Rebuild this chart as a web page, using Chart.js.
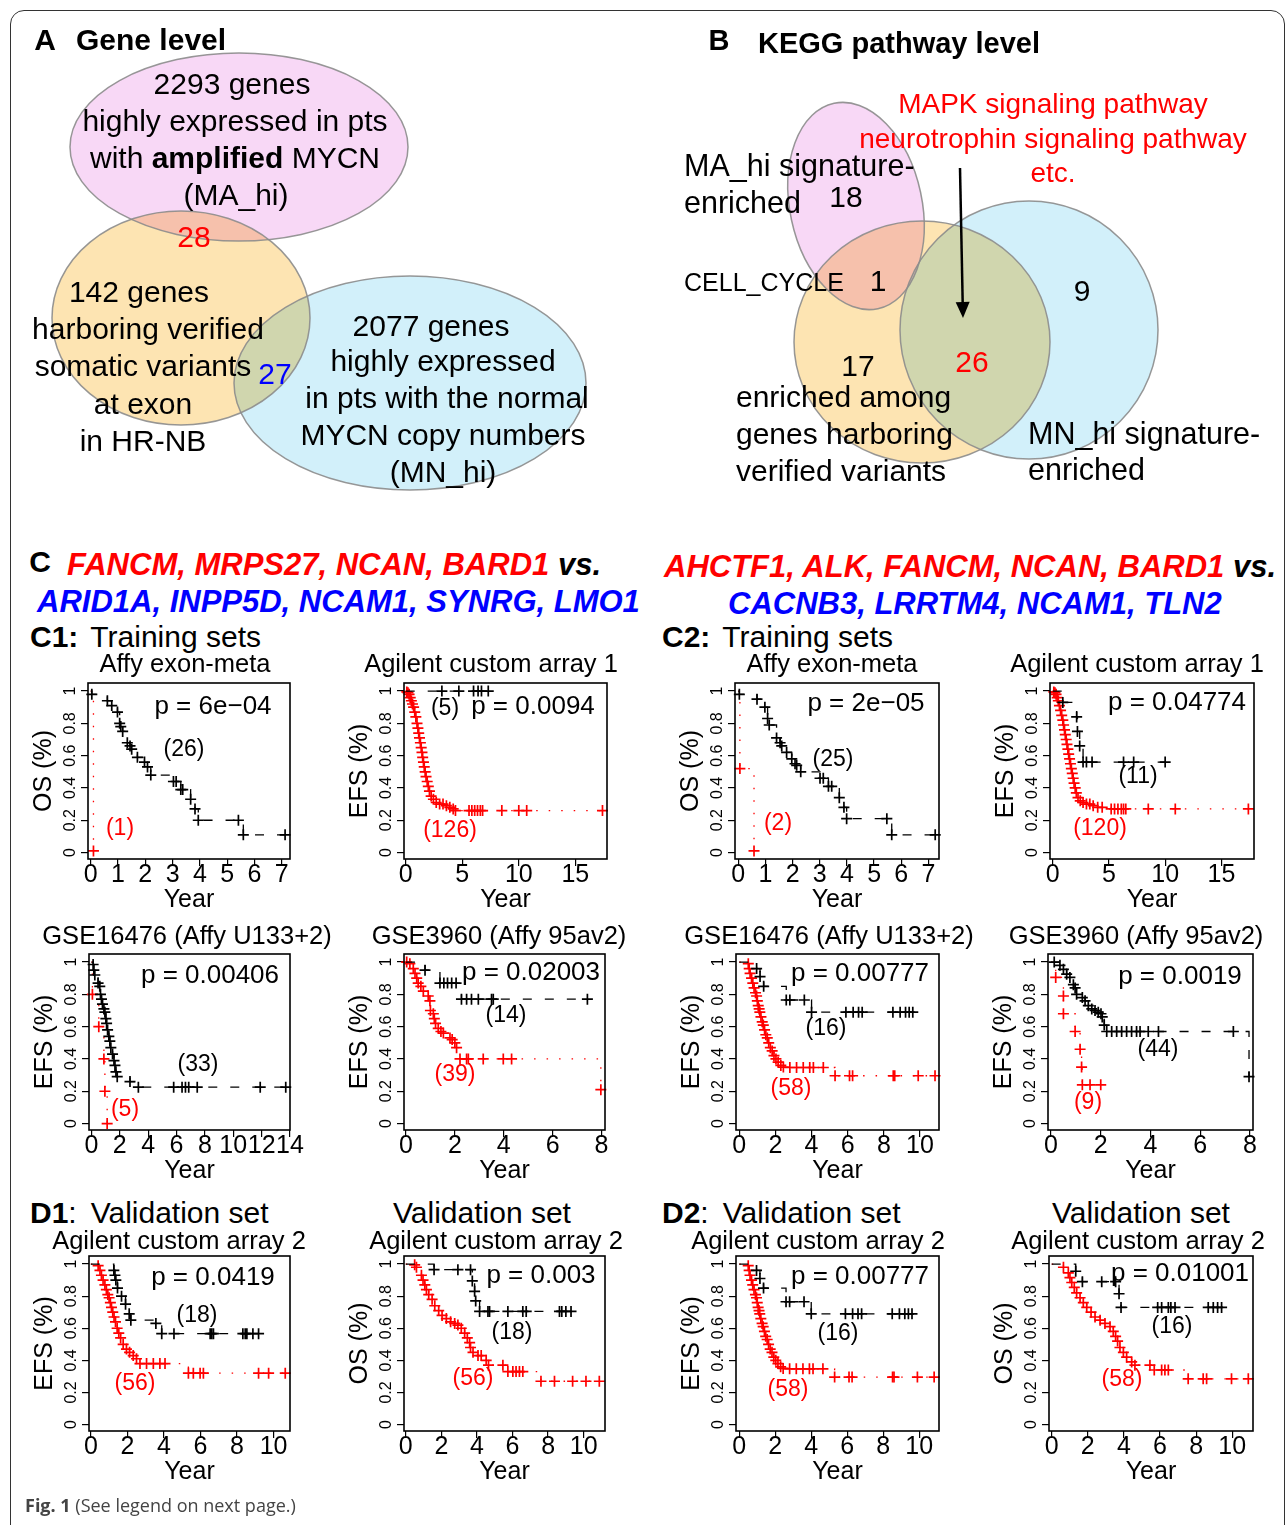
<!DOCTYPE html>
<html>
<head>
<meta charset="utf-8">
<script src="https://cdn.jsdelivr.net/npm/chart.js@4.4.1/dist/chart.umd.min.js"></script>
<style>
  html, body { margin: 0; padding: 0; background: #fff; }
  body { position: relative; width: 1287px; height: 1525px; overflow: hidden;
         font-family: "Liberation Sans", Arial, Helvetica, sans-serif; }
  .frame { position: absolute; left: 10px; top: 10px; width: 1275px; height: 1560px;
           border: 1.5px solid #333; border-radius: 14px; box-sizing: border-box; }
  .t { position: absolute; white-space: nowrap; line-height: 1; color: #000; }
  .c { transform: translate(-50%, -50%); }
  .l { transform: translateY(-50%); }
  .b { font-weight: bold; }
  .red { color: #ff0000; }
  .blue { color: #0000ff; }
  .hd { font-weight: bold; font-style: italic; }
  .cap { font-family: "Open Sans", "Noto Sans", sans-serif; color: #444; }
  canvas { position: absolute; }
</style>
</head>
<body>
<div class="frame"></div>
<canvas id="venn" width="1287" height="500" style="left:0;top:0"></canvas>
<script>
// ---- Venn counts ----
const geneSetSizes = [2293, 142, 2077];      // MA_hi, variants, MN_hi
const geneOverlaps = [28, 27];               // MA_hi & variants, variants & MN_hi
const keggCounts = [18, 1, 9, 26, 17];       // MA_hi, MA_hi&var, MN_hi, var&MN_hi, var

// ---- KM axis ticks ----
const yTicks = [0, 0.2, 0.4, 0.6, 0.8, 1];
const yTickLabels = ['0', '0.2', '0.4', '0.6', '0.8', '1'];
const xTicks7 = [0, 1, 2, 3, 4, 5, 6, 7];
const xTicks15 = [0, 5, 10, 15];
const xTicks14 = [0, 2, 4, 6, 8, 10, 12, 14];
const xTicks8 = [0, 2, 4, 6, 8];
const xTicks10 = [0, 2, 4, 6, 8, 10];

// ---- KM curves [year, survival]; hi = black group, lo = red group ----
const c1Affy_hi = [[0,1],[0.04,0.98],[0.61,0.94],[0.77,0.91],[0.98,0.87],[1.06,0.8],[1.1,0.78],[1.17,0.75],[1.34,0.68],[1.44,0.66],[1.5,0.64],[1.71,0.59],[1.97,0.56],[2.08,0.53],[2.2,0.48],[3.03,0.44],[3.13,0.44],[3.3,0.39],[3.37,0.39],[3.66,0.33],[3.82,0.27],[3.94,0.2],[5.41,0.2],[5.59,0.11],[7.12,0.11]];
const c1Affy_lo = [[0,1],[0.1,0.01]];

const c1Agil_hi = [[0,1],[3.2,1],[4.7,1],[6.0,1],[6.4,1],[6.7,1],[7.3,1]];
const c1Agil_lo = [[0,1],[0.1,0.995],[0.2,0.99],[0.3,0.98],[0.4,0.96],[0.5,0.94],[0.6,0.92],[0.7,0.9],[0.8,0.87],[0.9,0.84],[1.0,0.8],[1.08,0.77],[1.15,0.74],[1.22,0.71],[1.3,0.68],[1.37,0.65],[1.44,0.62],[1.5,0.59],[1.57,0.56],[1.64,0.53],[1.72,0.5],[1.8,0.47],[1.9,0.44],[2.0,0.41],[2.1,0.38],[2.25,0.35],[2.45,0.33],[2.7,0.31],[3.0,0.3],[3.3,0.3],[3.6,0.29],[3.9,0.28],[4.2,0.27],[4.4,0.26],[5.6,0.26],[5.85,0.26],[6.1,0.26],[6.35,0.26],[6.6,0.26],[6.8,0.26],[8.5,0.26],[10.0,0.26],[10.7,0.26],[17.4,0.26]];

const c1Gse16476_hi = [[0,1],[0.12,0.985],[0.17,0.95],[0.24,0.92],[0.47,0.87],[0.59,0.85],[0.64,0.8],[0.71,0.77],[0.78,0.74],[0.88,0.71],[0.95,0.69],[1.02,0.65],[1.07,0.62],[1.14,0.58],[1.23,0.54],[1.3,0.51],[1.37,0.47],[1.49,0.43],[1.59,0.39],[1.66,0.36],[1.73,0.32],[1.82,0.29],[2.72,0.26],[3.31,0.225],[5.8,0.225],[6.39,0.225],[6.63,0.225],[6.86,0.225],[7.46,0.225],[11.9,0.225],[13.7,0.225]];
const c1Gse16476_lo = [[0,1],[0.07,0.8],[0.52,0.6],[0.88,0.4],[0.95,0.2],[1.11,0]];

const c1Gse3960_hi = [[0,1],[0.78,0.95],[1.39,0.87],[1.55,0.87],[1.7,0.87],[1.87,0.87],[2.05,0.87],[2.27,0.77],[2.48,0.77],[2.68,0.77],[2.96,0.77],[3.5,0.77],[3.57,0.77],[7.42,0.77]];
const c1Gse3960_lo = [[0,1],[0.03,1.0],[0.16,0.99],[0.3,0.96],[0.37,0.93],[0.44,0.9],[0.5,0.87],[0.61,0.85],[0.71,0.82],[0.91,0.79],[0.98,0.76],[1.0,0.7],[1.12,0.68],[1.16,0.65],[1.21,0.62],[1.32,0.59],[1.43,0.57],[1.53,0.56],[1.8,0.53],[1.89,0.52],[2.0,0.5],[2.07,0.47],[2.21,0.4],[2.48,0.4],[2.55,0.4],[3.16,0.4],[3.98,0.4],[4.32,0.4],[7.97,0.21]];

const c2Affy_hi = [[0,1],[0.04,0.98],[0.69,0.95],[0.98,0.9],[1.08,0.83],[1.14,0.79],[1.41,0.71],[1.54,0.68],[1.6,0.66],[1.78,0.62],[1.97,0.58],[2.09,0.55],[2.15,0.54],[2.3,0.5],[3.01,0.46],[3.13,0.46],[3.32,0.41],[3.44,0.41],[3.72,0.34],[3.89,0.28],[3.99,0.21],[5.47,0.21],[5.65,0.11],[7.25,0.11]];
const c2Affy_lo = [[0,1],[0.06,0.52],[0.58,0.01]];

const c2Agil_hi = [[0,1],[0.9,0.93],[2.13,0.84],[2.2,0.75],[2.4,0.66],[2.7,0.56],[3.0,0.56],[3.5,0.56],[6.3,0.56],[7.2,0.56],[10.0,0.56]];
const c2Agil_lo = [[0,1],[0.1,0.995],[0.2,0.99],[0.3,0.98],[0.4,0.96],[0.5,0.94],[0.6,0.91],[0.7,0.88],[0.8,0.85],[0.9,0.82],[0.97,0.79],[1.05,0.76],[1.12,0.73],[1.2,0.7],[1.27,0.67],[1.35,0.64],[1.42,0.61],[1.5,0.58],[1.58,0.55],[1.66,0.52],[1.74,0.49],[1.82,0.46],[1.9,0.43],[2.0,0.4],[2.1,0.37],[2.25,0.34],[2.45,0.32],[2.7,0.31],[3.0,0.3],[3.3,0.3],[3.6,0.29],[4.0,0.28],[4.4,0.28],[5.2,0.27],[5.5,0.27],[5.8,0.27],[6.1,0.27],[6.3,0.27],[6.5,0.27],[8.5,0.27],[10.9,0.27],[17.4,0.27]];

const c2Gse16476_hi = [[0,1],[0.96,0.96],[1.15,0.91],[1.35,0.85],[2.6,0.765],[2.8,0.765],[3.6,0.765],[4.0,0.69],[5.9,0.69],[6.3,0.69],[6.6,0.69],[6.8,0.69],[8.5,0.69],[8.9,0.69],[9.2,0.69],[9.4,0.69],[9.6,0.69]];
const c2Gse16476_lo = [[0,1],[0.5,0.99],[0.55,0.96],[0.6,0.93],[0.68,0.9],[0.75,0.87],[0.82,0.84],[0.9,0.81],[0.96,0.79],[1.0,0.76],[1.05,0.73],[1.1,0.71],[1.14,0.69],[1.2,0.66],[1.27,0.63],[1.33,0.61],[1.4,0.58],[1.47,0.55],[1.55,0.53],[1.63,0.5],[1.72,0.47],[1.82,0.45],[1.92,0.42],[2.03,0.4],[2.15,0.38],[2.3,0.36],[2.44,0.35],[2.8,0.347],[3.17,0.347],[3.54,0.347],[3.9,0.347],[4.1,0.347],[4.65,0.347],[5.3,0.296],[6.1,0.296],[6.27,0.296],[8.52,0.296],[8.6,0.296],[9.9,0.296],[10.83,0.296]];

const c2Gse3960_hi = [[0,1],[0.13,1.0],[0.36,0.98],[0.5,0.955],[0.63,0.925],[0.76,0.905],[0.9,0.86],[0.97,0.84],[1.03,0.8],[1.26,0.78],[1.37,0.76],[1.5,0.73],[1.64,0.71],[1.77,0.7],[1.9,0.69],[2.01,0.68],[2.06,0.66],[2.14,0.61],[2.24,0.57],[2.44,0.57],[2.64,0.57],[2.84,0.57],[3.04,0.57],[3.24,0.57],[3.44,0.57],[3.58,0.57],[3.91,0.57],[4.32,0.57],[7.33,0.57],[7.96,0.29]];
const c2Gse3960_lo = [[0,1],[0.19,0.905],[0.5,0.79],[0.5,0.68],[0.97,0.57],[1.17,0.46],[1.23,0.35],[1.26,0.24],[1.57,0.24],[2.0,0.24]];

const d1Efs_hi = [[0,1],[1.26,0.96],[1.32,0.93],[1.37,0.9],[1.46,0.85],[1.68,0.8],[1.9,0.75],[2.1,0.69],[2.19,0.65],[3.56,0.63],[3.88,0.566],[4.55,0.566],[6.53,0.566],[6.62,0.566],[6.71,0.566],[8.32,0.566],[8.45,0.566],[8.54,0.566],[8.87,0.566],[9.18,0.566]];
const d1Efs_lo = [[0,1],[0.4,0.99],[0.5,0.96],[0.58,0.93],[0.67,0.9],[0.77,0.87],[0.85,0.84],[0.93,0.81],[1.0,0.79],[1.07,0.76],[1.13,0.73],[1.2,0.7],[1.27,0.67],[1.35,0.64],[1.44,0.6],[1.53,0.57],[1.63,0.54],[1.77,0.5],[1.95,0.47],[2.12,0.45],[2.32,0.43],[2.5,0.41],[2.69,0.38],[3.05,0.38],[3.42,0.38],[3.78,0.38],[4.06,0.38],[5.34,0.32],[5.61,0.32],[5.98,0.32],[6.16,0.32],[9.18,0.32],[9.73,0.32],[10.64,0.32]];

const d1Os_hi = [[0,1],[1.59,0.965],[2.93,0.965],[3.64,0.965],[3.74,0.895],[3.87,0.83],[3.93,0.77],[4.15,0.705],[4.62,0.705],[4.71,0.705],[5.74,0.705],[6.58,0.705],[6.77,0.705],[8.64,0.705],[8.77,0.705],[9.0,0.705],[9.29,0.705]];
const d1Os_lo = [[0,1],[0.5,0.995],[0.6,0.98],[0.88,0.93],[0.97,0.9],[1.07,0.87],[1.16,0.84],[1.29,0.81],[1.48,0.78],[1.63,0.74],[1.85,0.71],[2.04,0.68],[2.28,0.66],[2.52,0.64],[2.75,0.63],[2.93,0.62],[3.12,0.6],[3.31,0.57],[3.46,0.54],[3.59,0.51],[3.64,0.48],[3.78,0.45],[4.06,0.43],[4.24,0.43],[4.52,0.4],[4.65,0.37],[5.46,0.37],[5.74,0.33],[6.02,0.33],[6.2,0.33],[6.39,0.33],[6.58,0.33],[7.6,0.27],[8.36,0.27],[9.38,0.27],[10.13,0.27],[10.88,0.27]];

const d2Os_hi = [[0,1],[1.33,0.955],[1.7,0.89],[2.77,0.89],[3.54,0.89],[3.73,0.815],[3.84,0.73],[5.87,0.73],[6.09,0.73],[6.46,0.73],[6.6,0.73],[6.83,0.73],[8.67,0.73],[8.95,0.73],[9.19,0.73],[9.41,0.73]];
const d2Os_lo = [[0,1],[0.65,0.98],[0.92,0.945],[1.01,0.915],[1.11,0.885],[1.25,0.855],[1.38,0.82],[1.57,0.79],[1.75,0.76],[1.94,0.73],[2.18,0.7],[2.4,0.67],[2.68,0.65],[2.95,0.63],[3.23,0.61],[3.41,0.58],[3.54,0.55],[3.65,0.52],[3.78,0.48],[3.97,0.45],[4.15,0.42],[4.43,0.39],[4.61,0.37],[5.44,0.37],[5.68,0.34],[6.09,0.34],[6.27,0.34],[6.46,0.34],[7.56,0.285],[8.39,0.285],[8.58,0.285],[9.96,0.285],[10.89,0.285]];

// p values and group sizes per panel (C1 a-d, C2 a-d, D1 a-b, D2 a-b)
const pValues = ['6e\u221204', '0.0094', '0.00406', '0.02003', '2e\u221205', '0.04774', '0.00777', '0.0019', '0.0419', '0.003', '0.00777', '0.01001'];
const hiN = [26, 5, 33, 14, 25, 11, 16, 44, 18, 18, 16, 16];
const loN = [1, 126, 5, 39, 2, 120, 58, 9, 56, 56, 58, 58];

// ---- layout ----
const panels = [
  {box: [88, 683, 290, 859],   x: [-0.1, 7.3],   ticks: xTicks7,  yTitle: 'OS (%)',  hi: c1Affy_hi, lo: c1Affy_lo, pPos: [213, 705], hiPos: [184, 748], loPos: [120, 827]},
  {box: [404, 683, 607, 859],  x: [-0.15, 17.8], ticks: xTicks15, yTitle: 'EFS (%)', hi: c1Agil_hi, lo: c1Agil_lo, pPos: [533, 705], hiPos: [445, 707], loPos: [450, 829]},
  {box: [89, 954, 290, 1130],  x: [-0.17, 14.0], ticks: xTicks14, yTitle: 'EFS (%)', hi: c1Gse16476_hi, lo: c1Gse16476_lo, pPos: [210, 974], hiPos: [198, 1063], loPos: [125, 1108]},
  {box: [404, 954, 605, 1130], x: [-0.08, 8.14], ticks: xTicks8,  yTitle: 'EFS (%)', hi: c1Gse3960_hi, lo: c1Gse3960_lo, pPos: [531, 971], hiPos: [506, 1014], loPos: [455, 1073]},
  {box: [735, 683, 939, 859],  x: [-0.12, 7.39], ticks: xTicks7,  yTitle: 'OS (%)',  hi: c2Affy_hi, lo: c2Affy_lo, pPos: [866, 702], hiPos: [833, 758], loPos: [778, 822]},
  {box: [1050, 683, 1254, 859], x: [-0.24, 17.9], ticks: xTicks15, yTitle: 'EFS (%)', hi: c2Agil_hi, lo: c2Agil_lo, pPos: [1177, 701], hiPos: [1138, 775], loPos: [1100, 827]},
  {box: [736, 954, 939, 1130], x: [-0.18, 11.05], ticks: xTicks10, yTitle: 'EFS (%)', hi: c2Gse16476_hi, lo: c2Gse16476_lo, pPos: [860, 972], hiPos: [826, 1027], loPos: [791, 1087]},
  {box: [1048, 954, 1253, 1130], x: [-0.12, 8.12], ticks: xTicks8, yTitle: 'EFS (%)', hi: c2Gse3960_hi, lo: c2Gse3960_lo, pPos: [1180, 975], hiPos: [1158, 1048], loPos: [1088, 1101]},
  {box: [89, 1256, 290, 1431], x: [-0.1, 10.9], ticks: xTicks10, yTitle: 'EFS (%)', hi: d1Efs_hi, lo: d1Efs_lo, pPos: [213, 1276], hiPos: [197, 1314], loPos: [135, 1382]},
  {box: [404, 1256, 605, 1431], x: [-0.1, 11.2], ticks: xTicks10, yTitle: 'OS (%)',  hi: d1Os_hi, lo: d1Os_lo, pPos: [541, 1274], hiPos: [512, 1331], loPos: [473, 1377]},
  {box: [736, 1256, 939, 1431], x: [-0.18, 11.1], ticks: xTicks10, yTitle: 'EFS (%)', hi: c2Gse16476_hi, lo: c2Gse16476_lo, pPos: [860, 1275], hiPos: [838, 1332], loPos: [788, 1388]},
  {box: [1049, 1256, 1253, 1431], x: [-0.15, 11.15], ticks: xTicks10, yTitle: 'OS (%)', hi: d2Os_hi, lo: d2Os_lo, pPos: [1180, 1272], hiPos: [1172, 1325], loPos: [1122, 1378]}
];

const vennShapes = [
  {cx: 239, cy: 147, rx: 169, ry: 94, rot: 0, fill: '#f8d8f6'},
  {cx: 410, cy: 383, rx: 176, ry: 107, rot: 0, fill: '#d2f0fa'},
  {cx: 181, cy: 318, rx: 129, ry: 107, rot: 0, fill: '#fde4b2'},
  {cx: 856, cy: 206, rx: 66, ry: 105, rot: -0.21, fill: '#f8d8f6'},
  {cx: 1029, cy: 330, rx: 129, ry: 129, rot: 0, fill: '#d2f0fa'},
  {cx: 922, cy: 342, rx: 128, ry: 121, rot: 0, fill: '#fde4b2'}
];
const vennArrow = [960, 168, 963, 318];

function addText(html, x, y, align, size, cls) {
  const d = document.createElement('div');
  d.className = 't ' + align + (cls ? ' ' + cls : '');
  d.style.left = x + 'px';
  d.style.top = y + 'px';
  d.style.fontSize = size + 'px';
  d.innerHTML = html;
  document.body.appendChild(d);
}

// Venn diagrams drawn on a pixel-unit scatter chart
const vennPlugin = {
  id: 'venn',
  beforeDatasetsDraw(chart) {
    const {ctx, scales: {x, y}} = chart;
    const geo = s => {
      const px = x.getPixelForValue(s.cx), py = y.getPixelForValue(s.cy);
      return [px, py, Math.abs(x.getPixelForValue(s.cx + s.rx) - px), Math.abs(y.getPixelForValue(s.cy + s.ry) - py)];
    };
    ctx.save();
    ctx.globalCompositeOperation = 'multiply';
    vennShapes.forEach(s => {
      const [px, py, rx, ry] = geo(s);
      ctx.beginPath();
      ctx.ellipse(px, py, rx, ry, s.rot, 0, Math.PI * 2);
      ctx.fillStyle = s.fill;
      ctx.fill();
    });
    ctx.globalCompositeOperation = 'source-over';
    ctx.strokeStyle = 'rgba(140,140,140,0.9)';
    ctx.lineWidth = 1.5;
    vennShapes.forEach(s => {
      const [px, py, rx, ry] = geo(s);
      ctx.beginPath();
      ctx.ellipse(px, py, rx, ry, s.rot, 0, Math.PI * 2);
      ctx.stroke();
    });
    // arrow
    const x0 = x.getPixelForValue(vennArrow[0]), y0 = y.getPixelForValue(vennArrow[1]);
    const x1 = x.getPixelForValue(vennArrow[2]), y1 = y.getPixelForValue(vennArrow[3]);
    const ang = Math.atan2(y1 - y0, x1 - x0);
    ctx.strokeStyle = '#000';
    ctx.fillStyle = '#000';
    ctx.lineWidth = 2.5;
    ctx.beginPath();
    ctx.moveTo(x0, y0);
    ctx.lineTo(x1 - 12 * Math.cos(ang), y1 - 12 * Math.sin(ang));
    ctx.stroke();
    ctx.beginPath();
    ctx.moveTo(x1, y1);
    ctx.lineTo(x1 - 16 * Math.cos(ang) + 7 * Math.sin(ang), y1 - 16 * Math.sin(ang) - 7 * Math.cos(ang));
    ctx.lineTo(x1 - 16 * Math.cos(ang) - 7 * Math.sin(ang), y1 - 16 * Math.sin(ang) + 7 * Math.cos(ang));
    ctx.closePath();
    ctx.fill();
    ctx.restore();
  }
};

new Chart(document.getElementById('venn'), {
  type: 'scatter',
  data: {datasets: [{data: []}]},
  options: {
    responsive: false, animation: false, devicePixelRatio: 1,
    layout: {padding: 0},
    plugins: {legend: {display: false}, tooltip: {enabled: false}},
    scales: {
      x: {type: 'linear', min: 0, max: 1287, display: false},
      y: {type: 'linear', min: 0, max: 500, reverse: true, display: false}
    }
  },
  plugins: [vennPlugin]
});

// box, rotated y tick labels and y title in R style
const kmFrame = {
  id: 'kmFrame',
  afterDraw(chart, args, opts) {
    const {ctx, chartArea: a, scales: {y}} = chart;
    ctx.save();
    ctx.strokeStyle = '#000';
    ctx.lineWidth = 1.6;
    ctx.strokeRect(a.left, a.top, a.right - a.left, a.bottom - a.top);
    ctx.fillStyle = '#000';
    ctx.textAlign = 'center';
    ctx.textBaseline = 'middle';
    ctx.font = '16px "Liberation Sans", Arial, sans-serif';
    yTicks.forEach((v, i) => {
      ctx.save();
      ctx.translate(a.left - 17, y.getPixelForValue(v));
      ctx.rotate(-Math.PI / 2);
      ctx.fillText(yTickLabels[i], 0, 0);
      ctx.restore();
    });
    ctx.font = '25px "Liberation Sans", Arial, sans-serif';
    ctx.translate(a.left - 44, (a.top + a.bottom) / 2);
    ctx.rotate(-Math.PI / 2);
    ctx.fillText(opts.title, 0, 0);
    ctx.restore();
  }
};

const pad = {l: 72, t: 8, r: 22, b: 64};

function kmChart(p) {
  const cv = document.createElement('canvas');
  const w = p.box[2] - p.box[0] + pad.l + pad.r;
  const h = p.box[3] - p.box[1] + pad.t + pad.b;
  cv.width = w;
  cv.height = h;
  cv.style.left = (p.box[0] - pad.l) + 'px';
  cv.style.top = (p.box[1] - pad.t) + 'px';
  document.body.appendChild(cv);

  const curve = (pts, color, dash) => ({
    data: pts.map(([x, y]) => ({x, y})),
    stepped: true,
    borderColor: color,
    borderWidth: 1.3,
    borderDash: dash,
    pointStyle: 'cross',
    pointRadius: ctx => ctx.dataIndex === 0 ? 0 : 5.5,
    pointBorderColor: color,
    pointBorderWidth: 1.7,
    fill: false,
    clip: 10
  });

  new Chart(cv, {
    type: 'line',
    data: {datasets: [curve(p.hi, '#000', [9, 13]), curve(p.lo, '#ff0000', [1.5, 11])]},
    options: {
      responsive: false, animation: false, devicePixelRatio: 1,
      layout: {padding: {left: 0, top: pad.t, right: pad.r, bottom: 0}},
      plugins: {legend: {display: false}, tooltip: {enabled: false}, kmFrame: {title: p.yTitle}},
      scales: {
        x: {
          type: 'linear', min: p.x[0], max: p.x[1],
          afterFit: s => { s.height = pad.b; },
          afterBuildTicks: s => { s.ticks = p.ticks.map(v => ({value: v})); },
          ticks: {autoSkip: false, maxRotation: 0, minRotation: 0, padding: -6, color: '#000',
                  font: {size: 25, family: '"Liberation Sans", Arial, sans-serif'}},
          grid: {drawOnChartArea: false, tickLength: 7, color: '#000', lineWidth: 1.2},
          border: {display: false},
          title: {display: true, text: 'Year', color: '#000', padding: {top: 0, bottom: 8},
                  font: {size: 25, family: '"Liberation Sans", Arial, sans-serif'}}
        },
        y: {
          type: 'linear', min: -0.04, max: 1.05,
          afterFit: s => { s.width = pad.l; },
          afterBuildTicks: s => { s.ticks = yTicks.map(v => ({value: v})); },
          ticks: {display: false},
          grid: {drawOnChartArea: false, tickLength: 7, color: '#000', lineWidth: 1.2},
          border: {display: false}
        }
      }
    },
    plugins: [kmFrame]
  });
}

panels.forEach(kmChart);

// ---- texts ----
// panel A
addText('A', 45, 40, 'c', 30, 'b');
addText('Gene level', 76, 40, 'l', 30, 'b');
addText(`${geneSetSizes[0]} genes`, 232, 84, 'c', 30);
addText('highly expressed in pts', 235, 121, 'c', 30);
addText('with <b>amplified</b> MYCN', 235, 158, 'c', 30);
addText('(MA_hi)', 236, 195, 'c', 30);
addText(geneOverlaps[0], 194, 237, 'c', 30, 'red');
addText(`${geneSetSizes[1]} genes`, 139, 292, 'c', 30);
addText('harboring verified', 148, 329, 'c', 30);
addText('somatic variants', 143, 366, 'c', 30);
addText(geneOverlaps[1], 275, 374, 'c', 30, 'blue');
addText('at exon', 143, 404, 'c', 30);
addText('in HR-NB', 143, 441, 'c', 30);
addText(`${geneSetSizes[2]} genes`, 431, 326, 'c', 30);
addText('highly expressed', 443, 361, 'c', 30);
addText('in pts with the normal', 447, 398, 'c', 30);
addText('MYCN copy numbers', 443, 435, 'c', 30);
addText('(MN_hi)', 443, 472, 'c', 30);

// panel B
addText('B', 719, 40, 'c', 29, 'b');
addText('KEGG pathway level', 758, 43, 'l', 29, 'b');
addText('MAPK signaling pathway', 1053, 104, 'c', 28, 'red');
addText('neurotrophin signaling pathway', 1053, 139, 'c', 28, 'red');
addText('etc.', 1053, 173, 'c', 28, 'red');
addText('MA_hi signature-', 684, 165, 'l', 30.5);
addText('enriched', 684, 202, 'l', 30.5);
addText(keggCounts[0], 846, 197, 'c', 30);
addText('CELL_CYCLE', 684, 282, 'l', 25);
addText(keggCounts[1], 878, 281, 'c', 30);
addText(keggCounts[2], 1082, 291, 'c', 30);
addText(keggCounts[3], 972, 362, 'c', 30, 'red');
addText(keggCounts[4], 858, 366, 'c', 30);
addText('enriched among', 736, 397, 'l', 30);
addText('genes harboring', 736, 434, 'l', 30);
addText('verified variants', 736, 471, 'l', 30);
addText('MN_hi signature-', 1028, 433, 'l', 30.5);
addText('enriched', 1028, 469, 'l', 30.5);

// panel C / D headings
addText('C', 40, 562, 'c', 30, 'b');
addText('<span class="red">FANCM, MRPS27, NCAN, BARD1</span> vs.', 67, 564, 'l', 31, 'hd');
addText('ARID1A, INPP5D, NCAM1, SYNRG, LMO1', 37, 601, 'l', 31, 'hd blue');
addText('<span class="red">AHCTF1, ALK, FANCM, NCAN, BARD1</span> vs.', 664, 566, 'l', 31, 'hd');
addText('CACNB3, LRRTM4, NCAM1, TLN2', 728, 603, 'l', 31, 'hd blue');
addText('<b>C1:</b><span style="margin-left:12px">Training sets</span>', 30, 637, 'l', 30);
addText('<b>C2:</b><span style="margin-left:12px">Training sets</span>', 662, 637, 'l', 30);
addText('Affy exon-meta', 185, 664, 'c', 25.5);
addText('Agilent custom array 1', 491, 664, 'c', 25.5);
addText('Affy exon-meta', 832, 664, 'c', 25.5);
addText('Agilent custom array 1', 1137, 664, 'c', 25.5);
addText('GSE16476 (Affy U133+2)', 187, 936, 'c', 25.5);
addText('GSE3960 (Affy 95av2)', 499, 936, 'c', 25.5);
addText('GSE16476 (Affy U133+2)', 829, 936, 'c', 25.5);
addText('GSE3960 (Affy 95av2)', 1136, 936, 'c', 25.5);
addText('<b>D1</b>:<span style="margin-left:14px">Validation set</span>', 30, 1213, 'l', 30);
addText('Validation set', 482, 1213, 'c', 30);
addText('<b>D2</b>:<span style="margin-left:14px">Validation set</span>', 662, 1213, 'l', 30);
addText('Validation set', 1141, 1213, 'c', 30);
addText('Agilent custom array 2', 179, 1241, 'c', 25.5);
addText('Agilent custom array 2', 496, 1241, 'c', 25.5);
addText('Agilent custom array 2', 818, 1241, 'c', 25.5);
addText('Agilent custom array 2', 1138, 1241, 'c', 25.5);

// KM annotations
panels.forEach((p, i) => {
  addText('p = ' + pValues[i], p.pPos[0], p.pPos[1], 'c', 26);
  addText('(' + hiN[i] + ')', p.hiPos[0], p.hiPos[1], 'c', 23);
  addText('(' + loN[i] + ')', p.loPos[0], p.loPos[1], 'c', 23, 'red');
});

addText('<b>Fig. 1</b> (See legend on next page.)', 25, 1505, 'l', 18, 'cap');
</script>
</body>
</html>
